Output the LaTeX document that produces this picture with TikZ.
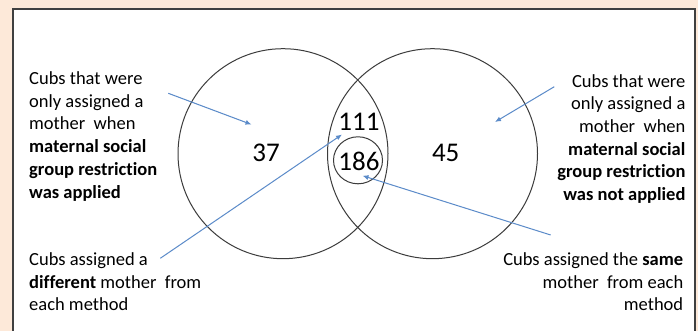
\documentclass[tikz,border=0pt]{standalone}
\usepackage{fontspec}
\setmainfont{Carlito}[Ligatures=NoCommon]
\usetikzlibrary{arrows.meta,shapes.geometric}
\definecolor{peach}{HTML}{FDE9D9}
\definecolor{arrowblue}{HTML}{5B8BC9}
\definecolor{ringgray}{HTML}{3C3C3C}
\begin{document}
\begin{tikzpicture}[x=1pt,y=-1pt,
  ring/.style={ellipse,draw=ringgray,line width=1pt,inner sep=0},
  num/.style={font=\fontsize{27}{30}\selectfont,inner sep=0},
  lbl/.style={font=\fontsize{18.5}{22.7}\selectfont,inner sep=0},
  pointer/.style={draw=arrowblue,line width=1pt,-{Latex[length=6pt,width=5pt]}}]
\useasboundingbox (0,0) rectangle (698,331);
\fill[peach] (0,0) rectangle (698,331);
\begin{scope}
  \clip (0,0) rectangle (698,331);
  \draw[fill=white,draw=black!75,line width=1.5pt] (13,9) rectangle (695,345);
\end{scope}
% circles
\node[ring,minimum width=210pt,minimum height=210pt] (A) at (283,153.7) {};
\node[ring,minimum width=210pt,minimum height=210pt] (B) at (432.5,153.7) {};
\node[ring,minimum width=49pt,minimum height=47pt] (C) at (358,160.3) {};
% numbers
\node[num] (n111) at (359,121.7) {111};
\node[num] (n186) at (359,161) {186};
\node[num] (n37) at (266,153.3) {37};
\node[num] (n45) at (445.7,153) {45};
% labels
\node[lbl,align=left,anchor=north west] (tl) at (29,71.5)
  {Cubs that were\\only assigned a\\mother~ when\\\textbf{maternal social}\\\textbf{group restriction}\\\textbf{was applied}};
\node[lbl,align=right,anchor=north east] (tr) at (685.6,74)
  {Cubs that were\\only assigned a\\mother~ when\\\textbf{maternal social}\\\textbf{group restriction}\\\textbf{was not applied}};
\node[lbl,align=left,anchor=north west] (bl) at (29,252.5)
  {Cubs assigned a\\\textbf{different} mother~ from\\each method};
\node[lbl,align=right,anchor=north east] (br) at (683.4,252.5)
  {Cubs assigned the \textbf{same}\\mother~ from each\\method};
% arrows
\coordinate (a1s) at (168.3,93.3); \coordinate (a1e) at (251.5,124.5);
\coordinate (a2s) at (554.3,86.7); \coordinate (a2e) at (495,122);
\coordinate (a3s) at (160.3,258.3); \coordinate (a3e) at (342,134.5);
\coordinate (a4s) at (550.7,235); \coordinate (a4e) at (362.5,175.7);
\draw[pointer] (a1s) -- (a1e);
\draw[pointer] (a2s) -- (a2e);
\draw[pointer] (a3s) -- (a3e);
\draw[pointer] (a4s) -- (a4e);
\end{tikzpicture}
\end{document}
